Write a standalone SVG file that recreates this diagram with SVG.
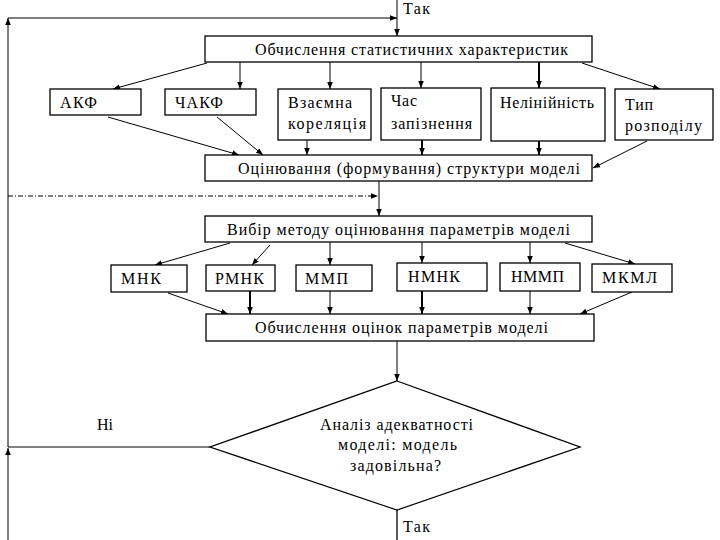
<svg xmlns="http://www.w3.org/2000/svg" width="720" height="540" viewBox="0 0 720 540">
<style>
.box{fill:#fff;stroke:#000;stroke-width:1.3}
.c{stroke:#000;stroke-width:1;fill:none;marker-end:url(#ah)}
.k{stroke:#000;stroke-width:2;fill:none;marker-end:url(#ah)}
.dd{stroke:#000;stroke-width:1;fill:none;stroke-dasharray:5 2 1 2;marker-end:url(#ah)}
</style>
<defs>
<marker id="ah" viewBox="0 0 10 10" refX="10" refY="5" markerWidth="7" markerHeight="7" markerUnits="userSpaceOnUse" orient="auto">
<path d="M0,1 L10,5 L0,9 z" fill="#000"/>
</marker>
</defs>
<rect width="720" height="540" fill="#fff"/>
<g id="connectors">
<path class="c" d="M397,0 L397,36"/>
<path class="c" d="M8,540 L8,448"/>
<path class="c" d="M210,447 L8,447 L8,18"/>
<path class="c" d="M8,18 L397,18"/>
<path class="c" d="M207,63 L113,89"/>
<path class="c" d="M240,62 L240,89"/>
<path class="c" d="M330,62 L330,89"/>
<path class="c" d="M421,62 L421,88"/>
<path class="k" d="M539,62 L539,88"/>
<path class="c" d="M582,63 L660,89"/>
<path class="c" d="M108,117 L239,155"/>
<path class="c" d="M217,117 L263,155"/>
<path class="c" d="M307,140 L307,155"/>
<path class="k" d="M422,140 L422,155"/>
<path class="k" d="M539,141 L539,155"/>
<path class="c" d="M647,141 L593,168"/>
<path class="dd" d="M8,196 L378,196"/>
<path class="c" d="M379,181 L379,216"/>
<path class="c" d="M230,243 L155,265"/>
<path class="c" d="M270,245 L252,265"/>
<path class="c" d="M330,242 L330,265"/>
<path class="c" d="M422,242 L422,263"/>
<path class="c" d="M530,242 L530,263"/>
<path class="c" d="M565,243 L635,264"/>
<path class="c" d="M168,293 L228,314"/>
<path class="k" d="M250,291 L250,314"/>
<path class="c" d="M330,291 L330,314"/>
<path class="k" d="M422,291 L422,314"/>
<path class="c" d="M530,291 L530,314"/>
<path class="c" d="M632,292 L580,314"/>
<path class="c" d="M397,341 L397,381"/>
<path stroke="#000" stroke-width="1.3" d="M397,510 L397,540"/>
</g>
<g font-family="Liberation Serif, Times New Roman, DejaVu Serif, serif" font-size="16" fill="#000">
<text x="403" y="14" textLength="27">Так</text>
<text x="97" y="430">Ні</text>
<text x="403" y="532" textLength="27">Так</text>
<g id="n1"><rect class="box" x="205" y="36" width="387" height="26"/><text x="255" y="55" textLength="313">Обчислення статистичних характеристик</text></g>
<g id="n2"><rect class="box" x="50" y="89" width="91" height="26"/><text x="60" y="108" textLength="37">АКФ</text></g>
<g id="n3"><rect class="box" x="165" y="89" width="91" height="26"/><text x="175" y="108" textLength="48">ЧАКФ</text></g>
<g id="n4"><rect class="box" x="278" y="89" width="93" height="51"/><text x="288" y="108" textLength="64">Взаємна</text><text x="288" y="129" textLength="78">кореляція</text></g>
<g id="n5"><rect class="box" x="381" y="88" width="100" height="52"/><text x="391" y="106" textLength="26">Час</text><text x="391" y="129" textLength="81">запізнення</text></g>
<g id="n6"><rect class="box" x="491" y="88" width="114" height="53"/><text x="500" y="108" textLength="94">Нелінійність</text></g>
<g id="n7"><rect class="box" x="615" y="89" width="98" height="51"/><text x="625" y="110" textLength="28">Тип</text><text x="625" y="131" textLength="77">розподілу</text></g>
<g id="n8"><rect class="box" x="205" y="155" width="387" height="26"/><text x="238" y="174" textLength="342">Оцінювання (формування) структури моделі</text></g>
<g id="n9"><rect class="box" x="205" y="216" width="387" height="26"/><text x="227" y="235" textLength="343">Вибір методу оцінювання параметрів моделі</text></g>
<g id="n10"><rect class="box" x="111" y="265" width="76" height="27"/><text x="121" y="284" textLength="40">МНК</text></g>
<g id="n11"><rect class="box" x="206" y="265" width="69" height="26"/><text x="215" y="284" textLength="49">РМНК</text></g>
<g id="n12"><rect class="box" x="296" y="265" width="76" height="26"/><text x="305" y="284" textLength="43">ММП</text></g>
<g id="n13"><rect class="box" x="397" y="263" width="90" height="28"/><text x="408" y="282" textLength="52">НМНК</text></g>
<g id="n14"><rect class="box" x="500" y="263" width="80" height="28"/><text x="511" y="282" textLength="53">НММП</text></g>
<g id="n15"><rect class="box" x="592" y="264" width="80" height="28"/><text x="602" y="283" textLength="55">МКМЛ</text></g>
<g id="n16"><rect class="box" x="206" y="314" width="388" height="27"/><text x="255" y="333" textLength="293">Обчислення оцінок параметрів моделі</text></g>
<g id="n17"><polygon class="box" points="397,381 580,447 397,510 210,447"/>
<text x="320" y="430" textLength="153">Аналіз адекватності</text>
<text x="338" y="450" textLength="119">моделі: модель</text>
<text x="350" y="471" textLength="91">задовільна?</text></g>
</g>
</svg>
